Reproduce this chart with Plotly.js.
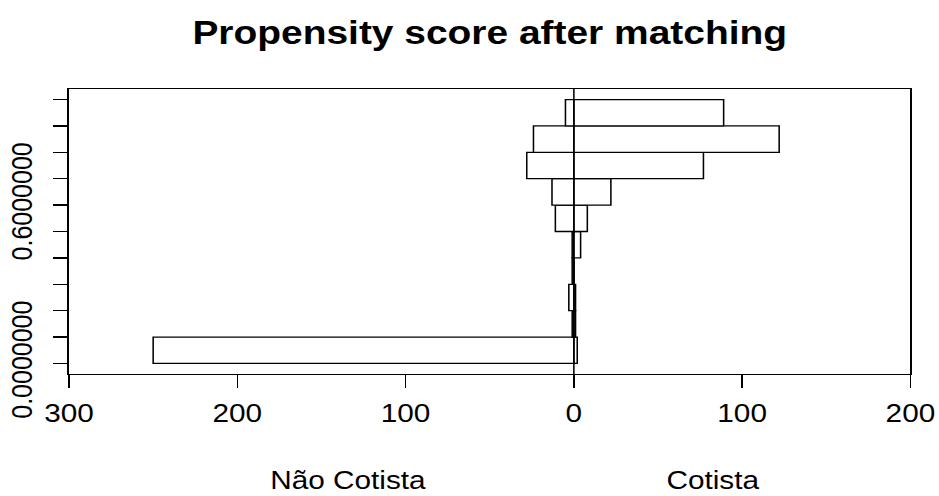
<!DOCTYPE html>
<html><head><meta charset="utf-8">
<script src="https://cdn.plot.ly/plotly-3.0.1.min.js"></script>
<style>
html,body{margin:0;padding:0;background:#fff;overflow:hidden;}
#wrap{width:939px;height:496px;overflow:hidden;}
#chart{width:789px;height:496px;transform:scaleX(1.1901);transform-origin:0 0;}
</style></head><body><div id="wrap"><div id="chart"></div></div>
<script>
// Bin centers of the propensity score histogram (breaks 0, 0.1, ..., 1.0)
const binCenters = [0.05, 0.15, 0.25, 0.35, 0.45, 0.55, 0.65, 0.75, 0.85, 0.95];
// Counts per bin
const nonCotista = [250, 1, 3, 1, 1, 11, 13, 28, 24, 5];
const cotista    = [2, 1, 1, 0, 4, 8, 22, 77, 122, 89];
// Tick labels
const xTickVals = [-300, -200, -100, 0, 100, 200];
const xTickText = ['300', '200', '100', '0', '100', '200'];
const yTickVals = [0, 0.1, 0.2, 0.3, 0.4, 0.5, 0.6, 0.7, 0.8, 0.9, 1.0];
const yTickText = ['0.0000000', '', '', '', '', '', '0.6000000', '', '', '', ''];
const groupLabels = ['Não Cotista', 'Cotista'];
const titleText = 'Propensity score after matching';

const FONT = 'Liberation Sans, Arial, sans-serif';
const barStyle = {color: '#ffffff', line: {color: '#000000', width: 1.3}};

const traces = [
  {type: 'bar', orientation: 'h', y: binCenters, x: nonCotista.map(v => -v),
   width: 0.1, base: 0, marker: barStyle, hoverinfo: 'skip', showlegend: false},
  {type: 'bar', orientation: 'h', y: binCenters, x: cotista,
   width: 0.1, base: 0, marker: barStyle, hoverinfo: 'skip', showlegend: false}
];

const layout = {
  width: 789, height: 496,
  margin: {l: 58, r: 23.5, t: 89, b: 122, pad: 0},
  paper_bgcolor: '#ffffff', plot_bgcolor: '#ffffff',
  barmode: 'overlay',
  font: {family: FONT, size: 25, color: '#000000'},
  title: {text: '<b>' + titleText + '</b>', font: {family: FONT, size: 32.7, color: '#000000'},
          x: 0.5, xref: 'paper', y: 1 - 33/496, yref: 'container', yanchor: 'middle'},
  xaxis: {range: [-300, 200], tickvals: xTickVals, ticktext: xTickText,
          showgrid: false, zeroline: false, showline: true, mirror: true,
          linecolor: '#000000', linewidth: 1.3, ticks: 'outside', ticklen: 12.5,
          tickwidth: 1.3, tickcolor: '#000000', ticklabelstandoff: 4,
          tickfont: {family: FONT, size: 25, color: '#000000'}, fixedrange: true},
  yaxis: {range: [-0.04, 1.04], tickvals: yTickVals, ticktext: yTickText,
          showgrid: false, zeroline: false, showline: true, mirror: true,
          linecolor: '#000000', linewidth: 1.3, ticks: 'outside', ticklen: 12.5,
          tickwidth: 1.3, tickcolor: '#000000', tickangle: -90, ticklabelstandoff: 7,
          tickfont: {family: FONT, size: 25, color: '#000000'}, fixedrange: true},
  shapes: [{type: 'line', xref: 'x', yref: 'paper', x0: 0, x1: 0, y0: 0, y1: 1,
            line: {color: '#000000', width: 1.3}}],
  annotations: [
    {text: groupLabels[0], xref: 'paper', yref: 'paper', x: 0.331, y: -0.372,
     xanchor: 'center', yanchor: 'middle', showarrow: false,
     font: {family: FONT, size: 25, color: '#000000'}},
    {text: groupLabels[1], xref: 'paper', yref: 'paper', x: 0.765, y: -0.372,
     xanchor: 'center', yanchor: 'middle', showarrow: false,
     font: {family: FONT, size: 25, color: '#000000'}}
  ]
};

Plotly.newPlot('chart', traces, layout, {staticPlot: true, displayModeBar: false});
</script></body></html>
